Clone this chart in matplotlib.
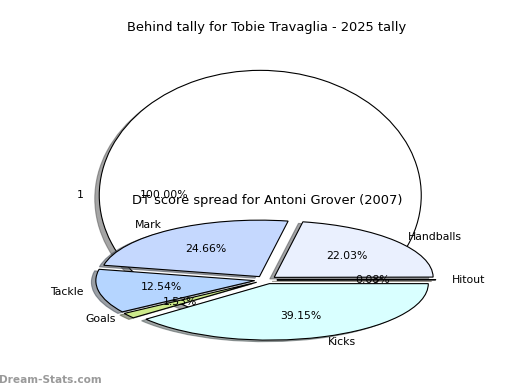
import matplotlib
matplotlib.use("Agg")
import matplotlib.pyplot as plt

# top pie: behind tally
behind_labels = ["1"]
behind_values = [1]

# bottom pie: DT score spread
dt_labels = ["Hitout", "Handballs", "Mark", "Tackle", "Goals", "Kicks"]
dt_values = [0.08, 22.03, 24.66, 12.54, 1.53, 39.15]
dt_colors = ["#ffe0b0", "#eaf0fe", "#c5d8fe", "#b5d5ff", "#cdea8a", "#d9ffff"]

plt.rcParams["font.size"] = 7.8

fig = plt.figure(figsize=(5.2, 3.9), dpi=100)

# first chart (big white pie)
ax1 = fig.add_axes([0.1135, 0.0987, 0.774, 0.801])
ax1.pie(behind_values, labels=behind_labels, colors=["white"],
        autopct="%1.2f%%", shadow=True,
        wedgeprops={"edgecolor": "black", "linewidth": 0.8})
ax1.set_aspect("auto")
ax1.set_title("Behind tally for Tobie Travaglia - 2025 tally", x=0.516, pad=6)

# second chart drawn on top, transparent background
ax2 = fig.add_axes([0.1289, 0.1013, 0.764, 0.362])
ax2.patch.set_visible(False)
ax2.pie(dt_values, labels=dt_labels, colors=dt_colors,
        explode=[0.07] * len(dt_values), autopct="%1.2f%%", shadow=True,
        wedgeprops={"edgecolor": "black", "linewidth": 0.8})
ax2.set_aspect("auto")
ax2.set_title("DT score spread for Antoni Grover (2007)", x=0.505, pad=3.5)

# watermark
fig.text(-0.002, 0.025, "Dream-Stats.com", color="#9a9a9a",
         fontsize=7.6, fontweight="bold", va="center", ha="left")

fig.savefig("out.png", dpi=100)
